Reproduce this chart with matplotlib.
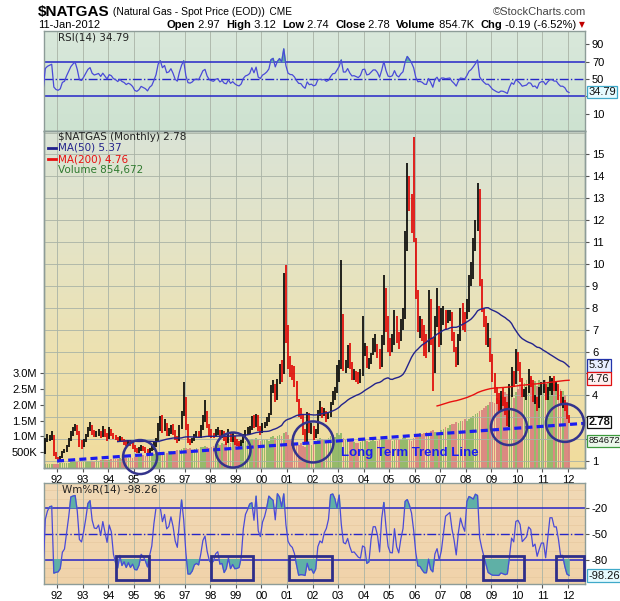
import numpy as np
import pandas as pd
import matplotlib
matplotlib.use("Agg")
import matplotlib.pyplot as plt
from matplotlib.colors import LinearSegmentedColormap
from matplotlib.lines import Line2D

# monthly bars, first bar = Apr 1990, last bar = Jan 2012
START_YEAR, START_MONTH = 1990, 4

CLOSE = [
    1.55, 1.50, 1.45, 1.55, 1.60, 1.75, 2.05, 2.10, 1.95,                    # 1990
    1.65, 1.45, 1.40, 1.45, 1.40, 1.35, 1.95, 2.05, 2.10, 2.15, 1.30, 1.15,  # 1991
    1.10, 1.15, 1.40, 1.45, 1.70, 1.95, 2.25, 2.45, 2.60, 2.30, 1.75, 1.70,  # 1992
    1.90, 2.15, 2.45, 2.60, 2.30, 2.20, 2.25, 2.30, 2.15, 2.35, 2.20, 2.05,  # 1993
    2.30, 2.25, 2.10, 2.05, 1.95, 2.05, 1.95, 1.90, 1.80, 1.85, 1.80, 1.70,  # 1994
    1.50, 1.45, 1.50, 1.60, 1.55, 1.50, 1.40, 1.50, 1.55, 1.70, 1.90, 2.45,  # 1995
    2.70, 2.45, 2.60, 2.30, 2.35, 2.55, 2.35, 2.05, 1.95, 2.50, 3.10, 3.60,  # 1996
    2.60, 1.90, 1.85, 1.95, 2.15, 2.20, 2.15, 2.50, 2.95, 3.10, 2.60, 2.30,  # 1997
    2.20, 2.15, 2.30, 2.35, 2.10, 2.20, 2.00, 1.95, 2.20, 1.95, 2.05, 1.90,  # 1998
    1.80, 1.75, 1.85, 2.15, 2.30, 2.35, 2.45, 2.85, 2.60, 3.05, 2.45, 2.35,  # 1999
    2.60, 2.70, 2.85, 3.10, 4.20, 4.40, 3.85, 4.65, 5.20, 4.95, 9.30, 6.90,  # 2000
    5.40, 5.10, 5.05, 4.60, 3.80, 3.15, 3.10, 2.40, 1.95, 3.10, 2.45, 2.55,  # 2001
    2.15, 2.30, 3.20, 3.30, 3.20, 3.25, 2.95, 3.10, 3.65, 4.10, 4.15, 4.70,  # 2002
    5.40, 7.00, 5.30, 5.30, 6.10, 5.40, 4.90, 4.95, 4.80, 4.65, 5.00, 6.10,  # 2003
    6.20, 5.40, 5.50, 5.90, 6.30, 6.30, 6.00, 5.40, 6.60, 8.80, 7.40, 6.30,  # 2004
    6.20, 6.40, 7.60, 6.70, 6.40, 7.10, 7.60, 10.70, 13.60, 13.00, 12.30, 11.20,  # 2005
    8.60, 7.10, 7.20, 6.90, 6.30, 6.20, 7.80, 6.60, 4.90, 7.30, 8.00, 6.50,  # 2006
    7.70, 7.70, 7.50, 7.60, 7.70, 6.80, 6.20, 5.40, 6.60, 7.40, 7.30, 7.20,  # 2007
    8.00, 9.20, 9.70, 10.60, 11.70, 13.20, 9.10, 8.10, 7.30, 6.60, 6.60, 5.80,  # 2008
    4.80, 4.30, 3.80, 3.50, 3.80, 3.70, 3.40, 3.00, 4.10, 5.00, 4.60, 5.60,  # 2009
    5.20, 4.70, 4.00, 4.10, 4.20, 4.60, 4.50, 3.80, 3.90, 3.40, 4.20, 4.40,  # 2010
    4.40, 3.90, 4.30, 4.60, 4.60, 4.40, 4.40, 4.00, 3.70, 3.70, 3.50, 2.97,  # 2011
    2.78,                                                                     # 2012
]

HIGH = [
    1.65, 1.60, 1.55, 1.62, 1.68, 1.85, 2.20, 2.30, 2.15,
    2.00, 1.70, 1.52, 1.55, 1.50, 1.45, 2.05, 2.25, 2.20, 2.35, 2.20, 1.40,
    1.20, 1.25, 1.45, 1.55, 1.75, 2.05, 2.35, 2.55, 2.70, 2.65, 2.35, 1.95,
    2.00, 2.25, 2.55, 2.80, 2.65, 2.40, 2.35, 2.45, 2.35, 2.60, 2.45, 2.30,
    2.55, 2.45, 2.30, 2.20, 2.10, 2.15, 2.10, 2.00, 1.95, 1.95, 1.95, 1.85,
    1.75, 1.60, 1.62, 1.75, 1.70, 1.65, 1.55, 1.60, 1.70, 1.85, 2.05, 2.75,
    3.05, 3.10, 2.90, 2.75, 2.50, 2.65, 2.70, 2.40, 2.15, 2.65, 3.30, 4.60,
    3.90, 2.70, 2.00, 2.05, 2.25, 2.35, 2.35, 2.65, 3.10, 3.80, 3.30, 2.70,
    2.45, 2.30, 2.45, 2.55, 2.40, 2.40, 2.35, 2.15, 2.45, 2.25, 2.30, 2.15,
    2.00, 1.90, 1.95, 2.25, 2.40, 2.55, 2.60, 3.05, 3.10, 3.15, 3.10, 2.60,
    2.75, 2.80, 3.00, 3.20, 4.45, 4.70, 4.50, 4.75, 5.45, 5.60, 9.60, 9.95,
    7.20, 5.80, 5.40, 5.35, 4.65, 3.85, 3.40, 3.15, 2.45, 3.25, 3.20, 2.75,
    2.60, 2.45, 3.35, 3.75, 3.45, 3.40, 3.30, 3.20, 3.70, 4.20, 4.40, 5.40,
    5.60, 10.20, 7.70, 5.60, 6.30, 6.40, 5.50, 5.20, 5.10, 5.05, 5.20, 7.60,
    6.40, 6.25, 5.70, 5.95, 6.60, 6.80, 6.35, 6.10, 6.75, 9.50, 8.90, 7.60,
    6.60, 6.80, 7.90, 7.60, 6.90, 7.50, 8.00, 11.50, 14.60, 14.00, 13.20, 15.80,
    11.20, 8.80, 7.60, 7.50, 7.20, 6.80, 8.80, 8.40, 6.60, 7.60, 8.90, 8.10,
    8.00, 8.10, 7.90, 7.90, 7.90, 7.80, 6.90, 6.20, 6.80, 8.00, 8.20, 7.80,
    8.40, 9.50, 10.10, 11.20, 12.00, 13.70, 13.40, 9.30, 8.00, 7.60, 7.30, 6.60,
    5.90, 5.00, 4.40, 4.10, 4.20, 4.40, 3.90, 3.70, 4.50, 5.30, 5.10, 6.10,
    6.00, 5.50, 4.80, 4.30, 4.40, 5.20, 4.90, 4.70, 4.00, 3.90, 4.40, 4.60,
    4.70, 4.50, 4.40, 4.90, 4.80, 4.90, 4.60, 4.50, 4.20, 3.90, 3.80, 3.60,
    3.12,
]

LOW = [
    1.48, 1.42, 1.38, 1.40, 1.50, 1.55, 1.70, 1.95, 1.85,
    1.55, 1.40, 1.32, 1.35, 1.32, 1.25, 1.30, 1.85, 1.90, 1.95, 1.25, 1.08,
    1.02, 1.05, 1.12, 1.35, 1.42, 1.65, 1.90, 2.15, 2.35, 2.20, 1.65, 1.55,
    1.65, 1.85, 2.10, 2.35, 2.20, 2.10, 2.10, 2.15, 2.05, 2.10, 2.10, 1.90,
    2.00, 2.15, 2.00, 1.95, 1.85, 1.90, 1.85, 1.75, 1.70, 1.70, 1.70, 1.55,
    1.40, 1.35, 1.38, 1.45, 1.45, 1.38, 1.30, 1.35, 1.45, 1.50, 1.65, 1.85,
    2.35, 2.30, 2.35, 2.15, 2.15, 2.25, 2.20, 1.95, 1.80, 1.90, 2.45, 3.05,
    2.40, 1.80, 1.75, 1.80, 1.90, 2.05, 2.05, 2.05, 2.40, 2.80, 2.50, 2.15,
    2.05, 2.05, 2.10, 2.20, 2.00, 2.05, 1.90, 1.75, 1.80, 1.85, 1.85, 1.75,
    1.70, 1.65, 1.70, 1.80, 2.10, 2.20, 2.25, 2.40, 2.50, 2.55, 2.35, 2.20,
    2.30, 2.50, 2.60, 2.80, 3.10, 4.10, 3.70, 3.80, 4.50, 4.60, 4.95, 6.40,
    5.20, 4.85, 4.70, 4.40, 3.70, 3.00, 2.90, 2.20, 1.80, 1.85, 2.30, 2.25,
    1.95, 2.05, 2.25, 3.05, 2.95, 3.05, 2.80, 2.90, 3.00, 3.55, 3.80, 4.10,
    4.60, 5.20, 5.10, 5.00, 5.25, 5.20, 4.70, 4.70, 4.60, 4.50, 4.55, 4.90,
    5.80, 5.25, 5.20, 5.45, 5.85, 6.00, 5.70, 5.20, 5.30, 6.30, 6.90, 6.00,
    5.80, 6.00, 6.30, 6.40, 6.10, 6.50, 7.00, 7.50, 10.60, 12.40, 11.40, 11.00,
    8.40, 6.90, 6.60, 6.50, 5.80, 5.70, 6.00, 6.30, 4.20, 5.00, 7.10, 6.20,
    6.30, 7.20, 7.00, 7.30, 7.40, 6.50, 6.00, 5.30, 5.40, 6.50, 7.00, 6.90,
    7.50, 7.80, 9.00, 9.30, 10.60, 11.50, 9.00, 7.80, 7.10, 6.30, 6.20, 5.50,
    4.60, 4.10, 3.60, 3.30, 3.30, 3.50, 3.10, 2.60, 2.55, 3.90, 4.40, 4.50,
    5.10, 4.60, 3.90, 3.90, 3.80, 4.10, 4.40, 3.70, 3.60, 3.30, 3.40, 4.00,
    4.10, 3.80, 3.80, 4.20, 4.00, 4.20, 4.20, 3.80, 3.60, 3.40, 3.30, 2.90,
    2.74,
]

# monthly volume, thousands
VOLUME_K = [
    80, 90, 85, 95, 100, 110, 120, 115, 110,
    120, 110, 115, 120, 125, 110, 120, 130, 125, 140, 135, 130,
    140, 150, 145, 160, 170, 165, 180, 175, 190, 200, 185, 180,
    200, 210, 230, 220, 210, 230, 240, 235, 250, 260, 245, 240,
    260, 280, 270, 300, 290, 310, 300, 320, 330, 310, 340, 330,
    360, 350, 380, 370, 400, 390, 420, 410, 430, 440, 460, 480,
    500, 520, 510, 480, 530, 550, 520, 540, 560, 580, 600, 620,
    640, 600, 620, 580, 610, 640, 600, 650, 680, 700, 660, 640,
    680, 700, 720, 760, 740, 780, 760, 820, 800, 780, 820, 850,
    800, 780, 820, 860, 840, 880, 900, 920, 880, 940, 900, 860,
    880, 900, 920, 860, 980, 1000, 950, 1020, 1050, 1000, 1100, 1150,
    1050, 900, 850, 800, 760, 720, 780, 700, 680, 800, 750, 720,
    780, 820, 900, 950, 920, 880, 900, 960, 1000, 1050, 980, 1100,
    1050, 1120, 950, 880, 900, 860, 840, 820, 800, 780, 820, 900,
    900, 850, 820, 860, 880, 840, 860, 900, 920, 950, 930, 900,
    880, 860, 900, 920, 880, 900, 940, 980, 920, 880, 860, 950,
    1000, 1050, 1100, 1080, 1120, 1150, 1100, 1180, 1200, 1150, 1100, 1120,
    1200, 1250, 1300, 1280, 1350, 1400, 1380, 1450, 1420, 1500, 1480, 1550,
    1500, 1550, 1600, 1650, 1700, 1750, 1800, 1850, 1900, 1950, 2000, 2100,
    2100, 2050, 2200, 2150, 2300, 2250, 2400, 2350, 2500, 2300, 2200, 2400,
    2500, 2650, 2550, 2700, 2800, 2650, 2850, 2700, 2750, 2600, 2800, 2700,
    2600, 2800, 2700, 2750, 2850, 2650, 2700, 2600, 2500, 2450, 2300, 2100,
    855,
]

YEARS = list(range(1992, 2013))
YEAR_LABELS = [f"{y % 100:02d}" for y in YEARS]
PRICE_TICKS = list(range(1, 16))
PRICE_HIDDEN = [2, 3, 5]          # covered by the value tags on the right
VOL_TICKS = [500e3, 1.0e6, 1.5e6, 2.0e6, 2.5e6, 3.0e6]
VOL_LABELS = ["500K", "1.0M", "1.5M", "2.0M", "2.5M", "3.0M"]
RSI_TICKS = [10, 30, 50, 70, 90]
RSI_HIDDEN = [30]                 # covered by the RSI value tag
WR_TICKS = [-20, -50, -80]

# annotations drawn on the chart (time, price)
CIRCLE_T = [1995.25, 1998.89, 2002.02, 2009.69, 2011.88]
CIRCLE_P = [1.18, 1.50, 1.87, 2.55, 2.74]
CIRCLE_R_PX = [17, 17.5, 20.5, 18, 19]
TREND_T = [1992.0, 2012.65]
TREND_P = [1.0, 2.72]
BOX_T0 = [1994.31, 1998.01, 2001.06, 2008.66, 2011.52]
BOX_T1 = [1995.60, 1999.66, 2002.77, 2010.26, 2012.64]
BOX_WR = (-103.3, -75.7)

LAST_CLOSE, LAST_VOL, LAST_MA50, LAST_MA200 = 2.78, 854672, 5.37, 4.76
LAST_RSI, LAST_WR = 34.79, -98.26

# ---- indicators ----
close = np.array(CLOSE)
high = np.array(HIGH)
low = np.array(LOW)
vol = np.array(VOLUME_K) * 1000.0
n = len(close)
t = START_YEAR + (START_MONTH - 1 + np.arange(n) + 0.5) / 12.0
prev = np.r_[close[0], close[:-1]]
up = close >= prev

s = pd.Series(close)
ma50 = s.rolling(50).mean().values
ma200 = s.rolling(200).mean().values
delta = s.diff().fillna(0)
gain = delta.clip(lower=0).ewm(alpha=1 / 14, adjust=False).mean()
loss = (-delta).clip(lower=0).ewm(alpha=1 / 14, adjust=False).mean()
rsi = (100 - 100 / (1 + gain / loss)).values
hh = pd.Series(high).rolling(14).max()
ll = pd.Series(low).rolling(14).min()
wr = ((hh - s) / (hh - ll) * -100).values

# ---- layout (pixel based, 620x601) ----
W_PX, H_PX = 620, 601
fig = plt.figure(figsize=(6.2, 6.01), dpi=100)
fig.patch.set_facecolor("white")
LEFT, RIGHT = 44, 585


def rect(top, bottom):
    return [LEFT / W_PX, 1 - bottom / H_PX, (RIGHT - LEFT) / W_PX, (bottom - top) / H_PX]


def fxy(x, y):
    return x / W_PX, 1 - y / H_PX


ax_rsi = fig.add_axes(rect(30.7, 130.7))
ax_v = fig.add_axes(rect(130.7, 468))
ax_p = ax_v.twinx()
ax_wr = fig.add_axes(rect(483, 584))

XLIM = (1991.49, 2012.665)
LINE_BLUE = "#2626c8"
IND_BLUE = "#4a4ad8"
TEAL = "#5fb0a6"
GRID = "#a9b3a6"
FONT = "Liberation Sans"
LEG_FONT = "DejaVu Sans"


def gradient(axis, colors):
    cmap = LinearSegmentedColormap.from_list("bg", colors)
    axis.imshow(np.linspace(1, 0, 256).reshape(-1, 1), cmap=cmap, aspect="auto",
                extent=(0, 1, 0, 1), transform=axis.transAxes, zorder=0)


def style(axis):
    for sp in axis.spines.values():
        sp.set_color("#8d9c98")
        sp.set_linewidth(1.0)
    axis.tick_params(axis="both", labelsize=8, length=3, width=0.8, color="#555555", pad=2)
    for lab in axis.get_xticklabels() + axis.get_yticklabels():
        lab.set_fontfamily(FONT)


def value_box(axis, y, txt, edge, face, transform=None, bold=False, size=8):
    tr = transform if transform is not None else axis.get_yaxis_transform()
    axis.text(1.006, y, txt, transform=tr, ha="left", va="center", fontsize=size,
              family=FONT, fontweight="bold" if bold else "normal", color="#111111",
              bbox=dict(boxstyle="square,pad=0.12", fc=face, ec=edge, lw=0.9),
              clip_on=False, zorder=20)


# ---- RSI panel ----
gradient(ax_rsi, ["#cde2d0", "#d9e8db"])
for y in YEARS:
    ax_rsi.axvline(y, color=GRID, lw=0.6, zorder=1)
ax_rsi.axhline(70, color=LINE_BLUE, lw=1.1, zorder=2)
ax_rsi.axhline(30, color=LINE_BLUE, lw=1.1, zorder=2)
ax_rsi.axhline(50, color=LINE_BLUE, lw=1.0, ls="-.", zorder=2)
ax_rsi.fill_between(t, 70, rsi, where=rsi > 70, interpolate=True, color=TEAL, zorder=3)
ax_rsi.plot(t, rsi, color=IND_BLUE, lw=0.9, zorder=4)
ax_rsi.set_xlim(*XLIM)
ax_rsi.set_ylim(-9.7, 105.7)
ax_rsi.yaxis.tick_right()
ax_rsi.set_yticks(RSI_TICKS)
ax_rsi.set_yticklabels(["" if v in RSI_HIDDEN else str(v) for v in RSI_TICKS])
ax_rsi.set_xticks([])
style(ax_rsi)
value_box(ax_rsi, LAST_RSI, f"{LAST_RSI:.2f}", "#3fa9c9", "#e6fbff")

# ---- main panel: volume underneath, price on top ----
gradient(ax_v, ["#f1dc9c", "#ede1b0", "#e4e4c6", "#dae3d6"])
for y in YEARS:
    ax_v.axvline(y, color=GRID, lw=0.6, zorder=1)
vol_colors = np.where(up, "#86b462", "#d87c7c")
ax_v.bar(t, vol, width=0.066, color=vol_colors, alpha=0.85, zorder=2)
ax_v.set_xlim(*XLIM)
ax_v.set_ylim(0, (468 - 130.7) / 31.6 * 1e6)
ax_v.set_yticks(VOL_TICKS)
ax_v.set_yticklabels(VOL_LABELS)
ax_v.set_xticks(YEARS)
ax_v.set_xticklabels(YEAR_LABELS)
style(ax_v)
value_box(ax_p, LAST_VOL, "854672", "#3c9a3c", "#eaf7ea",
          transform=ax_v.get_yaxis_transform(), size=6.8)

ax_p.set_ylim(1 + (461 - 468) / 21.9, 1 + (461 - 130.7) / 21.9)
for v in range(1, 17):
    ax_p.axhline(v, color=GRID, lw=0.6, zorder=0.5)
bar_colors = np.where(up, "#000000", "#e00000")
ax_p.vlines(t, low, high, colors=bar_colors, lw=1.2, zorder=3)
ax_p.plot(t, ma50, color="#23238c", lw=1.0, zorder=4)
ax_p.plot(t, ma200, color="#e81010", lw=1.0, zorder=4)
ax_p.plot(TREND_T, TREND_P, color="#1c1cf0", lw=2.3, ls=(0, (2.2, 1.3)), zorder=5)
sizes = [(2 * r * 0.72) ** 2 for r in CIRCLE_R_PX]
ax_p.scatter(CIRCLE_T, CIRCLE_P, s=sizes, facecolors="none", edgecolors="#33338c",
             linewidths=1.8, zorder=6, clip_on=False)
ax_p.text(2003.1, 1.36, "Long Term Trend Line", color="#1c1cf0", fontsize=9.5,
          fontweight="bold", family=FONT, va="center", ha="left", zorder=7)
ax_p.set_xlim(*XLIM)
ax_p.set_yticks(PRICE_TICKS)
ax_p.set_yticklabels(["" if v in PRICE_HIDDEN else str(v) for v in PRICE_TICKS])
ax_p.tick_params(axis="x", which="both", bottom=False, labelbottom=False)
style(ax_p)
value_box(ax_p, LAST_MA50, f"{LAST_MA50:.2f}", "#2233aa", "#e8efff")
value_box(ax_p, LAST_MA200, f"{LAST_MA200:.2f}", "#e01010", "#fff0f0")
value_box(ax_p, LAST_CLOSE, f"{LAST_CLOSE:.2f}", "#111111", "#ffffff", bold=True)

# ---- Williams %R panel ----
gradient(ax_wr, ["#f0d3aa", "#f1d9b6"])
for y in YEARS:
    ax_wr.axvline(y, color=GRID, lw=0.6, zorder=1)
for v in range(0, -110, -10):
    ax_wr.axhline(v, color="#e6c9a0", lw=0.5, zorder=0.8)
ax_wr.axhline(-20, color=LINE_BLUE, lw=1.1, zorder=2)
ax_wr.axhline(-80, color=LINE_BLUE, lw=1.1, zorder=2)
ax_wr.axhline(-50, color=LINE_BLUE, lw=1.0, ls="-.", zorder=2)
ax_wr.fill_between(t, -20, wr, where=wr > -20, interpolate=True, color=TEAL, zorder=3)
ax_wr.fill_between(t, -80, wr, where=wr < -80, interpolate=True, color=TEAL, zorder=3)
ax_wr.plot(t, wr, color=IND_BLUE, lw=0.9, zorder=4)
for t0, t1 in zip(BOX_T0, BOX_T1):
    ax_wr.add_patch(plt.Rectangle((t0, BOX_WR[0]), t1 - t0, BOX_WR[1] - BOX_WR[0],
                                  fill=False, ec="#2e2e8a", lw=2.0, zorder=6, clip_on=False))
ax_wr.set_xlim(*XLIM)
ax_wr.set_ylim(-108, 8.5)
ax_wr.yaxis.tick_right()
ax_wr.set_yticks(WR_TICKS)
ax_wr.set_yticklabels([f"{v}" for v in WR_TICKS])
ax_wr.set_xticks(YEARS)
ax_wr.set_xticklabels(YEAR_LABELS)
style(ax_wr)
value_box(ax_wr, LAST_WR, f"{LAST_WR:.2f}", "#3fa9c9", "#e6fbff")

# ---- header ----
r = fig.canvas.get_renderer()


def run(x, y, parts, align="left"):
    """Draw text pieces one after another, starting (or ending) at pixel x."""
    items = parts if align == "left" else parts[::-1]
    cur = x
    for txt, kw in items:
        fx, fy = fxy(cur, y)
        tt = fig.text(fx, fy, txt, ha=align, va="center", family=FONT, **kw)
        bb = tt.get_window_extent(r)
        cur = bb.x1 if align == "left" else bb.x0
    return cur


run(38, 12, [("$NATGAS", dict(fontsize=11, fontweight="bold")),
             (" (Natural Gas - Spot Price (EOD))", dict(fontsize=7.5)),
             ("  CME", dict(fontsize=7.2))])
fig.text(*fxy(586, 12), "\u00a9StockCharts.com", ha="right", va="center", fontsize=8,
         family=FONT, color="#444444")
fig.text(*fxy(38, 25), "11-Jan-2012", ha="left", va="center", fontsize=8, family=FONT)
bold, norm = dict(fontsize=8, fontweight="bold"), dict(fontsize=8)
run(576, 25, [("Open", bold), (" 2.97  ", norm), ("High", bold), (" 3.12  ", norm),
              ("Low", bold), (" 2.74  ", norm), ("Close", bold), (" 2.78  ", norm),
              ("Volume", bold), (" 854.7K  ", norm), ("Chg", bold), (" -0.19 (-6.52%)", norm)],
    align="right")
fig.text(*fxy(579, 25), "\u25bc", ha="left", va="center", fontsize=5.5, color="#c00000",
         family="DejaVu Sans")


# ---- panel legends ----
def leg(x, y, txt, color):
    fig.text(*fxy(x, y), txt, ha="left", va="center", fontsize=7.5, family=LEG_FONT, color=color)


def icon_line(x, y, color):
    (x0, y0), (x1, _) = fxy(x, y), fxy(x + 8, y)
    fig.add_artist(Line2D([x0, x1], [y0, y0], color=color, lw=2, transform=fig.transFigure))


leg(58, 37, "RSI(14) 34.79", "#222222")
leg(58, 137, "$NATGAS (Monthly) 2.78", "#222222")
icon_line(48, 148, "#23238c")
leg(58, 148, "MA(50) 5.37", "#23238c")
icon_line(48, 159, "#e81010")
leg(58, 159, "MA(200) 4.76", "#e81010")
leg(58, 170, "Volume 854,672", "#2f7a2f")
leg(62, 490, "Wm%R(14) -98.26", "#222222")

fig.savefig("out.png", dpi=100)
